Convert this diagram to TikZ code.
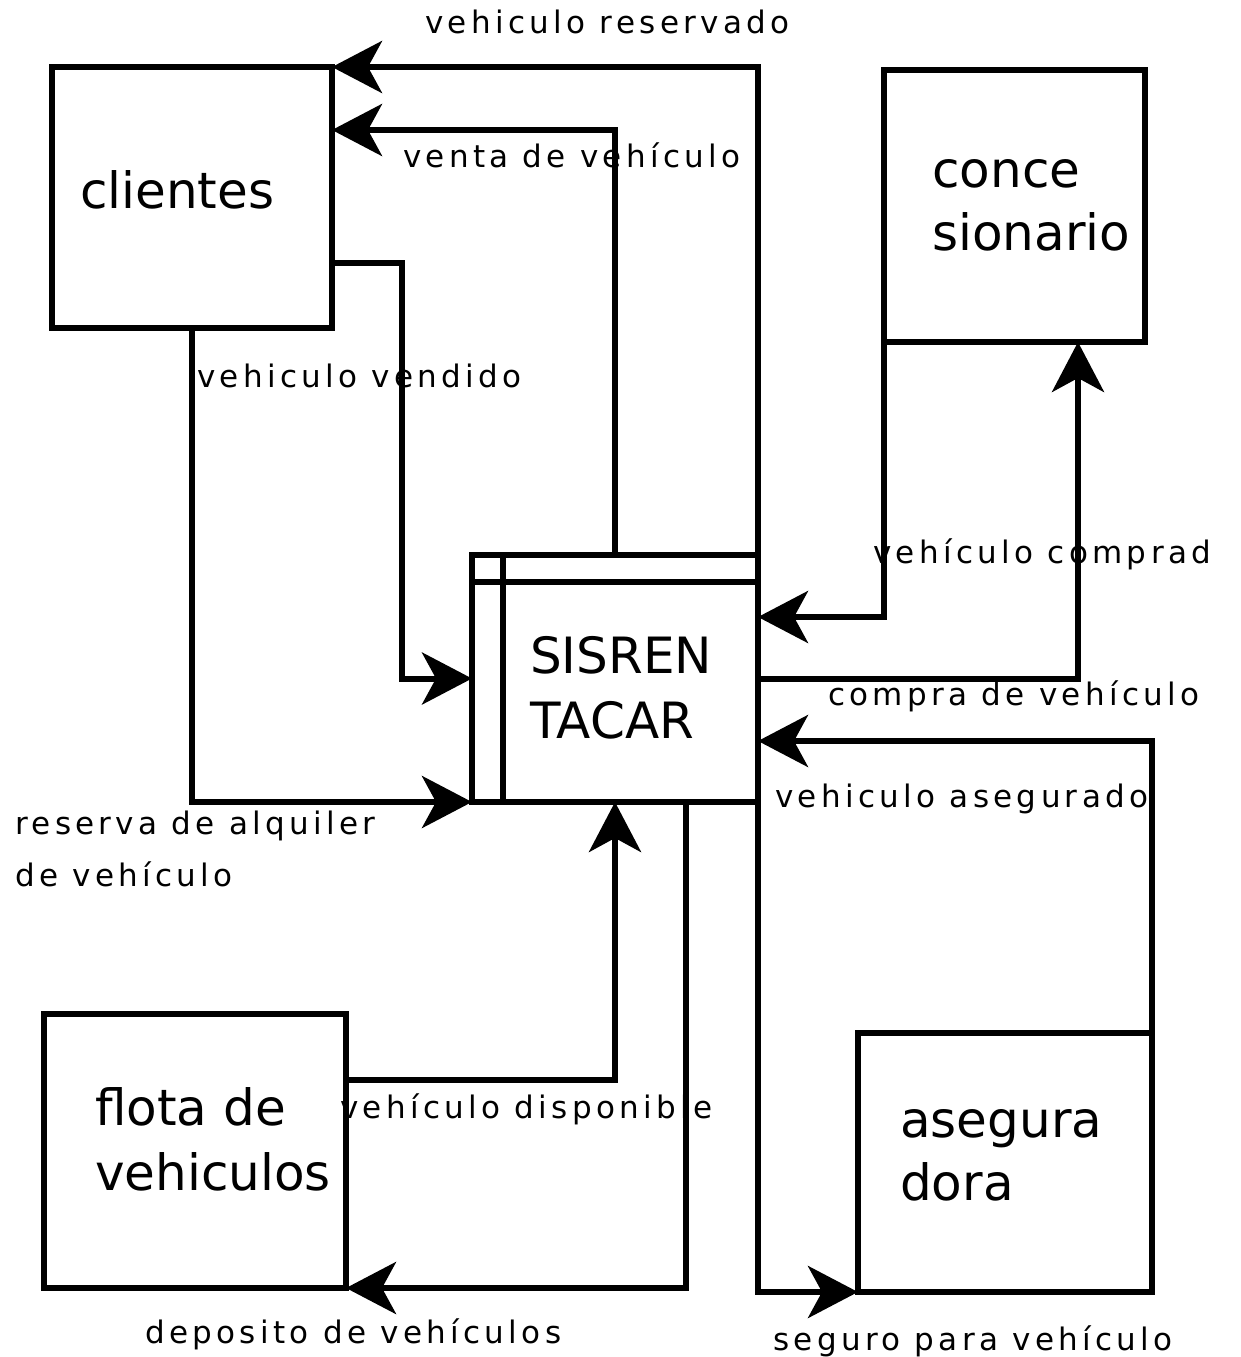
\documentclass[tikz,border=0pt]{standalone}
\usepackage{fontspec}
\setmainfont{DejaVu Sans}
\newfontfamily\lblfont[LetterSpace=14]{DejaVu Sans}
\usetikzlibrary{arrows.meta,calc}
\tikzset{
  box/.style={draw, line width=6pt, outer sep=0pt, inner sep=0pt, fill=white},
  big/.style={anchor=base west, inner sep=0pt, font=\fontsize{50}{60}\selectfont},
  lbl/.style={anchor=base west, inner sep=0pt, font=\lblfont\fontsize{31}{49}\selectfont},
  flow/.style={line width=6pt, -{Stealth[length=50pt,width=52pt,inset=14pt]}},
  plain/.style={line width=6pt}
}
\begin{document}
\begin{tikzpicture}[x=1pt,y=-1pt]
\useasboundingbox (0,0) rectangle (1241,1357);
\fill[white] (0,0) rectangle (1241,1357);
% boxes
\node[box, minimum width=280pt, minimum height=261pt] (cli) at (192,197.5) {};
\node[box, minimum width=261pt, minimum height=272pt] (con) at (1014.5,206) {};
\node[box, minimum width=302pt, minimum height=274pt] (flo) at (195,1151) {};
\node[box, minimum width=294pt, minimum height=259pt] (ase) at (1005,1162.5) {};
\node[box, minimum width=286pt, minimum height=247pt] (sis) at (615,678.5) {};
\draw[plain] ($(sis.north west)+(31,0)$) -- ($(sis.south west)+(31,0)$);
\draw[plain] ($(sis.north west)+(0,27)$) -- ($(sis.north east)+(0,27)$);
% box texts
\node[big] (tcli) at (80,208) {clientes};
\node[big] (tcon1) at (932,187) {conce};
\node[big] (tcon2) at (932,250) {sionario};
\node[big] (tsis1) at (530,673) {SISREN};
\node[big] (tsis2) at (530,738) {TACAR};
\node[big] (tflo1) at (95,1125) {flota de};
\node[big] (tflo2) at (95,1190) {vehiculos};
\node[big] (tase1) at (900,1137) {asegura};
\node[big] (tase2) at (900,1200) {dora};
% connectors
\draw[flow] (sis.north east) |- (cli.north east);
\draw[flow] (sis.north) |- ($(cli.north east)+(0,63)$);
\draw[flow] ($(cli.north east)+(0,196)$) -| ($(sis.west)+(-70,0)$) -- (sis.west);
\draw[flow] (cli.south) |- (sis.south west);
\draw[flow] (con.south west) |- ($(sis.north east)+(0,62)$);
\draw[flow] (sis.east) -| ($(con.south)+(63.5,0)$);
\draw[flow] (ase.north east) |- ($(sis.north east)+(0,186)$);
\draw[flow] (sis.south east) |- (ase.south west);
\draw[flow] ($(flo.north east)+(0,66)$) -| (sis.south);
\draw[flow] ($(sis.south)+(71,0)$) |- (flo.south east);
% labels
\node[lbl] (l1) at (425,33) {vehiculo reservado};
\node[lbl] (l2) at (403,167) {venta de vehículo};
\node[lbl] (l3) at (197,387) {vehiculo vendido};
\node[lbl] (l4a) at (15,834) {reserva de alquiler};
\node[lbl] (l4b) at (15,886) {de vehículo};
\node[lbl] (l5) at (873,563) {vehículo comprad};
\node[lbl] (l6) at (828,705) {compra de vehículo};
\node[lbl] (l7) at (775,807) {vehiculo asegurado};
\node[lbl] (l8) at (340,1118) {vehículo disponible};
\node[lbl] (l9) at (145,1343) {deposito de vehículos};
\node[lbl] (l10) at (773,1350) {seguro para vehículo};
\end{tikzpicture}
\end{document}
